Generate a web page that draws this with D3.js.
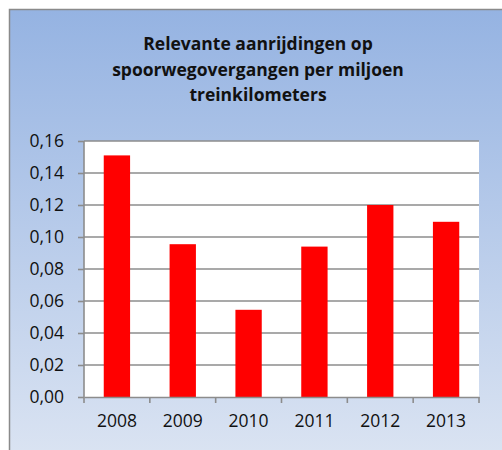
<!DOCTYPE html>
<html>
<head>
<meta charset="utf-8">
<script src="https://cdn.jsdelivr.net/npm/d3@7"></script>
<style>
  html, body { margin: 0; padding: 0; background: #fff; }
  svg { display: block; }
  text { font-family: "Open Sans", "Noto Sans", sans-serif; fill: #111; }
</style>
</head>
<body>
<script>
// chart data
var years = ["2008", "2009", "2010", "2011", "2012", "2013"];
var values = [0.151, 0.0955, 0.0545, 0.094, 0.12, 0.1095];
var yTicks = [0, 0.02, 0.04, 0.06, 0.08, 0.10, 0.12, 0.14, 0.16];
var titleLines = ["Relevante aanrijdingen op", "spoorwegovergangen per miljoen", "treinkilometers"];

// dimensions of the plot area inside the 502x450 picture
var W = 502, H = 450;
var plot = { left: 84, top: 141, right: 479, bottom: 397 };

var svg = d3.select("body").append("svg")
    .attr("width", W)
    .attr("height", H);

// background gradient of the chart area
var grad = svg.append("defs").append("linearGradient")
    .attr("id", "bg")
    .attr("x1", 0).attr("y1", 0).attr("x2", 0).attr("y2", 1);
grad.append("stop").attr("offset", "0%").attr("stop-color", "#95b3e2");
grad.append("stop").attr("offset", "100%").attr("stop-color", "#dee6f3");

svg.append("rect")
    .attr("x", 9.5).attr("y", 9.5)
    .attr("width", W + 20).attr("height", H + 20)
    .attr("fill", "url(#bg)")
    .attr("stroke", "#8a8a8a")
    .attr("stroke-width", 1.5);

// title
svg.append("text")
    .attr("text-anchor", "middle")
    .attr("font-weight", "bold")
    .attr("font-size", 17.5)
    .selectAll("tspan")
    .data(titleLines)
    .enter().append("tspan")
    .attr("x", 258)
    .attr("y", (d, i) => 50 + i * 25.5)
    .text(d => d);

// scales
var xCat = d3.scaleBand().domain(years).range([plot.left, plot.right]).padding(0);
var y = d3.scaleLinear().domain([0, 0.16]).range([plot.bottom, plot.top]);
var nl = d3.formatLocale({ decimal: ",", thousands: ".", grouping: [3], currency: ["€", ""] });

// plot area
svg.append("rect")
    .attr("x", plot.left).attr("y", plot.top)
    .attr("width", plot.right - plot.left).attr("height", plot.bottom - plot.top)
    .attr("fill", "#fff");

// gridlines
svg.append("g")
    .selectAll("line")
    .data(yTicks.slice(1))
    .enter().append("line")
    .attr("x1", plot.left).attr("x2", plot.right)
    .attr("y1", d => y(d)).attr("y2", d => y(d))
    .attr("stroke", "#8c8c8c")
    .attr("stroke-width", 1.6);

// bars
var barW = xCat.bandwidth() * 0.4;
svg.append("g")
    .selectAll("rect")
    .data(values)
    .enter().append("rect")
    .attr("x", (d, i) => xCat(years[i]) + (xCat.bandwidth() - barW) / 2)
    .attr("y", d => y(d))
    .attr("width", barW)
    .attr("height", d => y(0) - y(d))
    .attr("fill", "#ff0000");

// y axis
var yAxis = svg.append("g")
    .attr("transform", "translate(" + plot.left + ",0)")
    .call(d3.axisLeft(y).tickValues(yTicks).tickFormat(nl.format(".2f")).tickSize(6).tickSizeOuter(0).tickPadding(14));
yAxis.select(".domain").attr("stroke", "#8c8c8c").attr("stroke-width", 1.6)
    .attr("d", "M0," + plot.top + "V" + (plot.bottom + 6));
yAxis.selectAll(".tick line").attr("stroke", "#8c8c8c").attr("stroke-width", 1.6);
yAxis.selectAll("text").attr("font-size", 17.5).attr("fill", "#111").attr("font-family", null);

// x axis
var xAxis = svg.append("g")
    .attr("transform", "translate(0," + plot.bottom + ")")
    .call(d3.axisBottom(xCat).tickSize(0).tickPadding(18));
xAxis.select(".domain").attr("stroke", "#8c8c8c").attr("stroke-width", 1.6);
xAxis.selectAll("text").attr("font-size", 17.5).attr("fill", "#111").attr("font-family", null);

// category boundary tick marks
xAxis.append("g")
    .selectAll("line")
    .data(years)
    .enter().append("line")
    .attr("x1", d => xCat(d) + xCat.bandwidth())
    .attr("x2", d => xCat(d) + xCat.bandwidth())
    .attr("y1", 0).attr("y2", 6)
    .attr("stroke", "#8c8c8c")
    .attr("stroke-width", 1.6);
</script>
</body>
</html>
